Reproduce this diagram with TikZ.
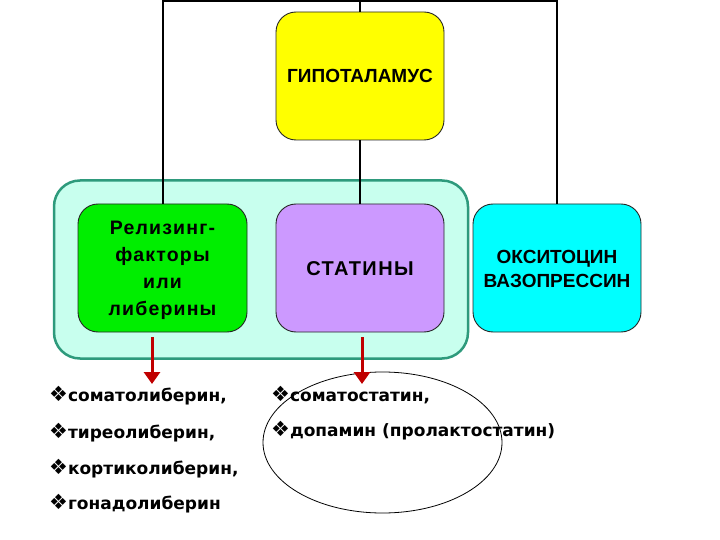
\documentclass[tikz,border=0pt]{standalone}
\usepackage{fontspec}
\setmainfont{Liberation Sans}[BoldFont={Liberation Sans Bold}]
\newfontfamily\listfont{DejaVu Sans}[BoldFont={DejaVu Sans Bold}]
\usetikzlibrary{shapes.geometric,arrows.meta}
\definecolor{hypyellow}{HTML}{FFFF00}
\definecolor{relgreen}{HTML}{00EE00}
\definecolor{statpurple}{HTML}{CC99FF}
\definecolor{oxycyan}{HTML}{00FFFF}
\definecolor{contfill}{HTML}{C8FFEE}
\definecolor{contdraw}{HTML}{2E9A7C}
\definecolor{arrred}{HTML}{C00000}
\newcommand{\bul}{{\fontsize{21}{21}\selectfont ❖}}
\tikzset{
  boxnode/.style={draw=black!85, line width=0.9pt, rounded corners=20pt,
    minimum width=168pt, minimum height=128pt, align=center},
  boxtext/.style={align=center, inner sep=0pt,
    font=\fontsize{19}{27}\selectfont\bfseries},
  conn/.style={draw=black, line width=2pt},
  redarrow/.style={draw=arrred, line width=3pt,
    -{Triangle[width=16pt,length=12pt]}},
  listitem/.style={anchor=base west, inner sep=0pt,
    font=\listfont\fontsize{17}{20}\selectfont\bfseries}
}
\begin{document}
\begin{tikzpicture}[x=1pt,y=-1pt]
\useasboundingbox (0,0) rectangle (720,540);
% container
\node[draw=contdraw, fill=contfill, line width=2.5pt, rounded corners=26pt,
  minimum width=414pt, minimum height=178pt] (cont) at (261,269.5) {};
% boxes
\node[boxnode, fill=hypyellow] (hyp) at (360,76) {};
\node[boxnode, fill=relgreen, minimum width=169pt] (rel) at (162.5,268) {};
\node[boxnode, fill=statpurple] (stat) at (360,268) {};
\node[boxnode, fill=oxycyan] (oxy) at (557,268) {};
\node[boxtext] (hypt) at (hyp.center) {ГИПОТАЛАМУС};
\node[boxtext, font=\fontsize{19.5}{27}\selectfont\bfseries\addfontfeatures{LetterSpace=6}] (relt) at ([yshift=-2pt]rel.center) {Релизинг-\\факторы\\или\\либерины};
\node[boxtext, font=\fontsize{20}{24}\selectfont\bfseries\addfontfeatures{LetterSpace=7}] (statt) at ([yshift=-1pt]stat.center) {СТАТИНЫ};
\node[boxtext, font=\fontsize{19}{23.5}\selectfont\bfseries] (oxyt) at ([yshift=-1pt]oxy.center) {ОКСИТОЦИН\\ВАЗОПРЕССИН};
% connectors
\coordinate (tl) at (162.5,1);
\coordinate (tr) at (557,1);
\draw[conn] (rel.north) -- (tl) -- (tr) -- (oxy.north);
\draw[conn] (hyp.north) -- (hyp.north |- tl);
\draw[conn] (hyp.south) -- (stat.north);
% red arrows
\coordinate (a1s) at (152,337);
\coordinate (a1e) at (152,384);
\coordinate (a2s) at (362,337);
\coordinate (a2e) at (362,384);
\draw[redarrow] (a1s) -- (a1e);
% ellipse
\node[draw=black, line width=0.8pt, ellipse, minimum width=239pt, minimum height=141pt, inner sep=0pt] (ell) at (382.5,442.5) {};
\draw[redarrow] (a2s) -- (a2e);
% lists
\node[listitem] (l1) at (49,401) {\bul соматолиберин,};
\node[listitem] (l2) at (49,438) {\bul тиреолиберин,};
\node[listitem] (l3) at (49,474) {\bul кортиколиберин,};
\node[listitem] (l4) at (49,509) {\bul гонадолиберин};
\node[listitem] (r1) at (271,401) {\bul соматостатин,};
\node[listitem] (r2) at (271,436) {\bul допамин (пролактостатин)};
\end{tikzpicture}
\end{document}
